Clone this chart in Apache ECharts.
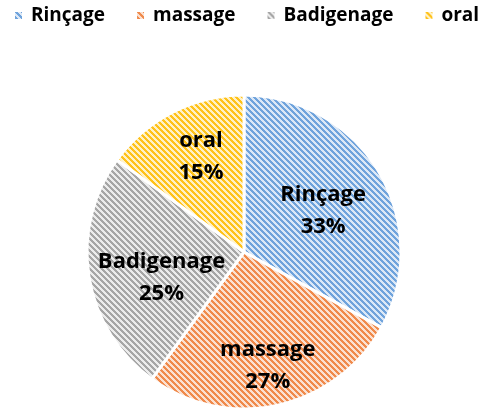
<!DOCTYPE html>
<html>
<head>
<meta charset="utf-8">
<script src="https://cdn.jsdelivr.net/npm/echarts@6/dist/echarts.min.js"></script>
<style>
  html, body { margin: 0; padding: 0; background: #fff; }
  #main { width: 485px; height: 410px; }
</style>
</head>
<body>
<div id="main"></div>
<script>
// données
var categories = ['Rinçage', 'massage', 'Badigenage', 'oral'];
var percents = [33, 27, 25, 15];
var stripeColors = ['#6fa3dc', '#f08a4b', '#a6a6a6', '#ffc21a'];
var backColors = ['#dce8f6', '#fbe1d1', '#ececec', '#fff1c6'];
// décalage des étiquettes (position type Excel)
var labelOffsets = [[9, 0], [6, 34], [-2, 13], [-6, -23]];

// motif hachuré diagonal
function makeHatch(stripe, back) {
  var size = 6;
  var c = document.createElement('canvas');
  c.width = size;
  c.height = size;
  var ctx = c.getContext('2d');
  for (var x = 0; x < size; x++) {
    for (var y = 0; y < size; y++) {
      var k = ((x - y) % size + size) % size;
      ctx.fillStyle = k < 3 ? stripe : back;
      ctx.fillRect(x, y, 1, 1);
    }
  }
  return { image: c, repeat: 'repeat' };
}

var pieData = categories.map(function (name, i) {
  return {
    name: name,
    value: percents[i],
    itemStyle: { color: makeHatch(stripeColors[i], backColors[i]) },
    label: { offset: labelOffsets[i] }
  };
});

var myChart = echarts.init(document.getElementById('main'));
var option = {
  animation: false,
  legend: {
    top: 6,
    left: 13,
    width: 1000,
    padding: 0,
    itemWidth: 9,
    itemHeight: 9,
    itemGap: 30,
    icon: 'rect',
    textStyle: {
      fontFamily: 'Open Sans',
      fontWeight: 'bold',
      fontSize: 19,
      color: '#000',
      padding: [0, 0, 0, 3]
    },
    data: categories
  },
  series: [
    {
      type: 'pie',
      center: [244, 252],
      radius: 157,
      startAngle: 90,
      clockwise: true,
      itemStyle: {
        borderColor: '#fff',
        borderWidth: 3
      },
      label: {
        show: true,
        position: 'inside',
        fontFamily: 'Open Sans',
        fontWeight: 'bold',
        fontSize: 22,
        lineHeight: 32,
        color: '#000',
        formatter: function (p) {
          return p.name + '\n' + p.value + '%';
        }
      },
      labelLine: { show: false },
      emphasis: { disabled: true },
      data: pieData
    }
  ]
};
myChart.setOption(option);
</script>
</body>
</html>
